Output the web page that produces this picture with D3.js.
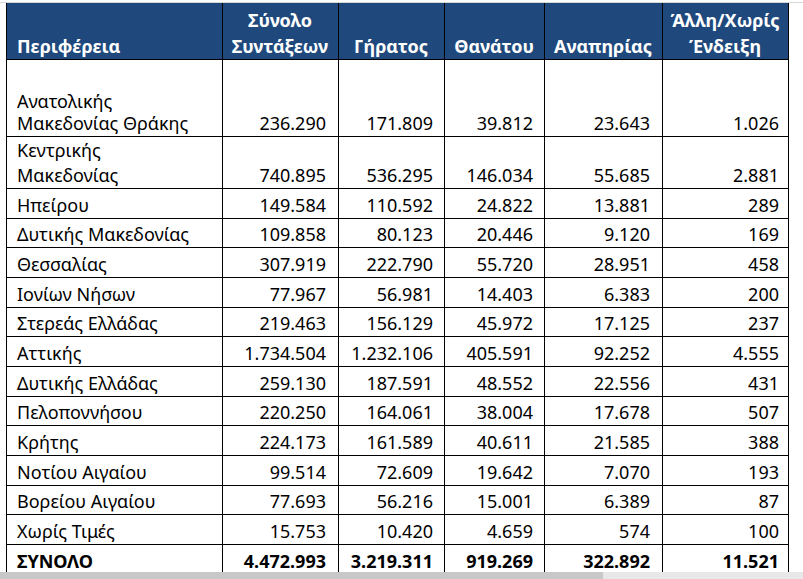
<!DOCTYPE html>
<html>
<head>
<meta charset="utf-8">
<script src="https://cdn.jsdelivr.net/npm/d3@7"></script>
<style>
html,body{margin:0;padding:0;background:#fff;}
svg{display:block;}
text{font-family:"Noto Sans",sans-serif;}
</style>
</head>
<body>
<svg id="chart" width="803" height="579"></svg>
<script>
// ---- data ----
const headers = [["Περιφέρεια"], ["Σύνολο", "Συντάξεων"], ["Γήρατος"], ["Θανάτου"], ["Αναπηρίας"], ["Άλλη/Χωρίς", "Ένδειξη"]];
const regions = [
  ["Ανατολικής", "Μακεδονίας Θράκης"],
  ["Κεντρικής", "Μακεδονίας"],
  ["Ηπείρου"],
  ["Δυτικής Μακεδονίας"],
  ["Θεσσαλίας"],
  ["Ιονίων Νήσων"],
  ["Στερεάς Ελλάδας"],
  ["Αττικής"],
  ["Δυτικής Ελλάδας"],
  ["Πελοποννήσου"],
  ["Κρήτης"],
  ["Νοτίου Αιγαίου"],
  ["Βορείου Αιγαίου"],
  ["Χωρίς Τιμές"],
  ["ΣΥΝΟΛΟ"]
];
const totalPensions = [236290, 740895, 149584, 109858, 307919, 77967, 219463, 1734504, 259130, 220250, 224173, 99514, 77693, 15753, 4472993];
const oldAge        = [171809, 536295, 110592, 80123, 222790, 56981, 156129, 1232106, 187591, 164061, 161589, 72609, 56216, 10420, 3219311];
const death         = [39812, 146034, 24822, 20446, 55720, 14403, 45972, 405591, 48552, 38004, 40611, 19642, 15001, 4659, 919269];
const disability    = [23643, 55685, 13881, 9120, 28951, 6383, 17125, 92252, 22556, 17678, 21585, 7070, 6389, 574, 322892];
const otherNone     = [1026, 2881, 289, 169, 458, 200, 237, 4555, 431, 507, 388, 193, 87, 100, 11521];

// ---- layout ----
const colEdges = [6, 222, 338, 444, 544, 662, 788];
const rightPad = [0, 12, 11, 11, 12, 9];
const headerTop = 3, headerBottom = 59;
const rowHeights = [77, 52, 29.67, 29.67, 29.67, 29.67, 29.67, 29.67, 29.67, 29.67, 29.67, 29.67, 29.67, 29.67, 30];
const fmt = d3.formatLocale({decimal: ",", thousands: ".", grouping: [3], currency: ["", "€"]}).format(",d");

const svg = d3.select("#chart");
const valueCols = [totalPensions, oldAge, death, disability, otherNone];

// row boundaries
const rowTops = [];
let acc = headerBottom;
rowHeights.forEach(h => { rowTops.push(acc); acc += h; });
const tableBottom = acc;

// top faint line
svg.append("line").attr("x1", 0).attr("x2", 803).attr("y1", 2.5).attr("y2", 2.5)
  .attr("stroke", "#d6d6d6").attr("stroke-width", 1);

// header
svg.append("rect").attr("x", colEdges[0]).attr("y", headerTop)
  .attr("width", colEdges[6] - colEdges[0]).attr("height", headerBottom - headerTop)
  .attr("fill", "#1f497d");

const hdr = svg.append("g");
headers.forEach((lines, i) => {
  const x0 = colEdges[i], x1 = colEdges[i + 1];
  const t = hdr.append("text")
    .attr("fill", "#ffffff").attr("font-weight", "bold").attr("font-size", 18)
    .attr("text-anchor", i === 0 ? "start" : "middle");
  const x = i === 0 ? x0 + 11 : (x0 + x1) / 2;
  const n = lines.length;
  lines.forEach((ln, k) => {
    t.append("tspan").attr("x", x).attr("y", 53 - (n - 1 - k) * 26).text(ln);
  });
});

// body rows
const body = svg.append("g");
regions.forEach((lines, r) => {
  const top = rowTops[r], bottom = top + rowHeights[r];
  const isTotal = r === regions.length - 1;
  const base = bottom - 6;
  const t = body.append("text").attr("fill", "#000").attr("font-size", 18)
    .attr("font-weight", isTotal ? "bold" : "normal");
  const n = lines.length;
  const spacing = r === 0 ? 22 : 25;
  lines.forEach((ln, k) => {
    t.append("tspan").attr("x", colEdges[0] + 11).attr("y", base - (n - 1 - k) * spacing).text(ln);
  });
  valueCols.forEach((col, c) => {
    body.append("text").attr("fill", "#000").attr("font-size", 18)
      .attr("font-weight", isTotal ? "bold" : "normal")
      .attr("text-anchor", "end")
      .attr("x", colEdges[c + 1 + 1] - rightPad[c + 1])
      .attr("y", base)
      .text(fmt(col[r]));
  });
});

// grid lines
const grid = svg.append("g").attr("stroke", "#000").attr("stroke-width", 1).attr("shape-rendering", "crispEdges");
colEdges.forEach((x, i) => {
  grid.append("line").attr("x1", x + 0.5).attr("x2", x + 0.5)
    .attr("y1", headerTop).attr("y2", tableBottom)
    .attr("stroke", i === 0 || i === colEdges.length - 1 ? "#000" : "#000");
});
rowTops.forEach(y => {
  grid.append("line").attr("x1", colEdges[0]).attr("x2", colEdges[6] + 1)
    .attr("y1", Math.round(y) + 0.5).attr("y2", Math.round(y) + 0.5);
});

// bottom grey bar (window scrollbar artefact)
svg.append("rect").attr("x", 0).attr("y", 572).attr("width", 803).attr("height", 7).attr("fill", "#e8e8e8");
svg.append("rect").attr("x", 0).attr("y", 572).attr("width", 603).attr("height", 7).attr("fill", "#c8c8c8");
</script>
</body>
</html>
